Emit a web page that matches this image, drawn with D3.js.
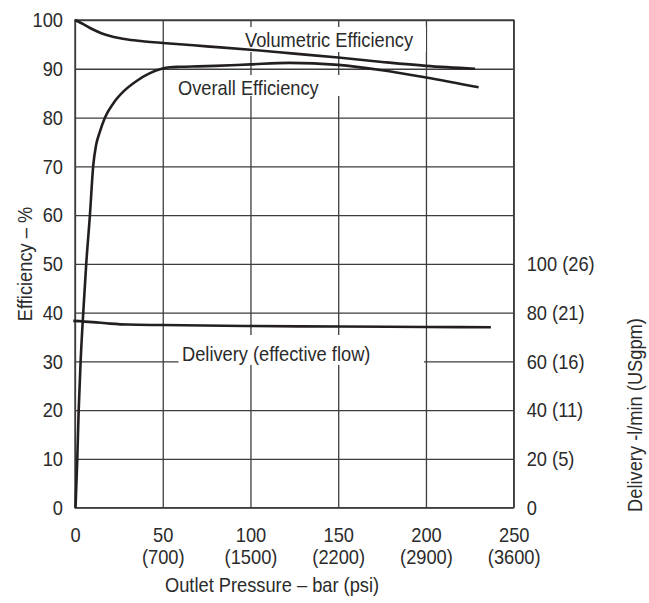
<!DOCTYPE html>
<html>
<head>
<meta charset="utf-8">
<script src="https://cdn.jsdelivr.net/npm/d3@7"></script>
<style>
  html, body { margin: 0; padding: 0; background: #fff; }
  svg { display: block; }
  text { font-family: "Liberation Sans", Arial, sans-serif; fill: #2b2b2b; transform-box: fill-box; }
  text.sq-start { transform-origin: left center; transform: scaleX(0.87); }
  text.sq-mid { transform-origin: center center; transform: scaleX(0.87); }
  text.sq-end { transform-origin: right center; transform: scaleX(0.87); }
</style>
</head>
<body>
<script>
// ---- data ----
const pressureTicks = [0, 50, 100, 150, 200, 250];
const psiLabels = ["", "(700)", "(1500)", "(2200)", "(2900)", "(3600)"];
const effTicks = [0, 10, 20, 30, 40, 50, 60, 70, 80, 90, 100];
const deliveryTicks = [0, 20, 40, 60, 80, 100];
const deliveryTickLabels = ["0", "20 (5)", "40 (11)", "60 (16)", "80 (21)", "100 (26)"];

const volPressure = [0, 5, 10, 15, 20, 25, 30, 40, 50, 75, 100, 125, 150, 175, 200, 228];
const volEff      = [100, 99.1, 98.1, 97.3, 96.7, 96.3, 96.0, 95.6, 95.3, 94.6, 93.9, 93.1, 92.3, 91.4, 90.6, 90.0];

const overallPressure = [0.3, 1.3, 2.1, 3.2, 4.7, 6.4, 8.5, 10.4, 12.0, 14.2, 17.1, 21.8, 27.5, 35.1, 42.7, 49.4, 54.1, 60, 70, 80, 100, 122, 150, 175, 200, 230];
const overallEff      = [0, 10, 20, 30, 40, 50, 60, 70.2, 74.3, 77.1, 80.0, 82.9, 85.3, 87.5, 89.1, 90.0, 90.3, 90.4, 90.5, 90.6, 90.9, 91.2, 90.8, 89.7, 88.2, 86.2];

const delivPressure = [-1, 10, 20, 30, 50, 100, 150, 200, 237];
const delivFlow     = [76.6, 76.1, 75.5, 75.1, 74.9, 74.5, 74.3, 74.1, 74.0];

// ---- layout ----
const W = 649, H = 603;
const X0 = 75, X1 = 513.7, Y0 = 507.7, Y1 = 20;
const x = d3.scaleLinear().domain([0, 250]).range([X0, X1]);
const yL = d3.scaleLinear().domain([0, 100]).range([Y0, Y1]);
const yR = d3.scaleLinear().domain([0, 100]).range([Y0, yL(50)]);

const svg = d3.select("body").append("svg").attr("width", W).attr("height", H);

const gridColor = "#3d3d3d";
// gridlines via axes
const gx = svg.append("g").attr("transform", `translate(0,${Y0})`)
  .call(d3.axisBottom(x).tickValues(pressureTicks).tickSize(-(Y0 - Y1)).tickFormat(""));
const gy = svg.append("g").attr("transform", `translate(${X0},0)`)
  .call(d3.axisLeft(yL).tickValues(effTicks).tickSize(-(X1 - X0)).tickFormat(""));
[gx, gy].forEach(g => {
  g.select(".domain").remove();
  g.selectAll(".tick line").attr("stroke", gridColor).attr("stroke-width", 1.3);
});

// label background boxes (cover gridlines)
const boxes = [
  {x0: 240, x1: 426, y0: 27, y1: 52},
  {x0: 172, x1: 346, y0: 75, y1: 96},
  {x0: 178.5, x1: 424, y0: 335, y1: 365}
];
svg.selectAll("rect.lbl").data(boxes).join("rect")
  .attr("x", d => d.x0).attr("y", d => d.y0)
  .attr("width", d => d.x1 - d.x0).attr("height", d => d.y1 - d.y0)
  .attr("fill", "#fff");

// frame
svg.append("rect").attr("x", X0).attr("y", Y1).attr("width", X1 - X0).attr("height", Y0 - Y1)
  .attr("fill", "none").attr("stroke", gridColor).attr("stroke-width", 1.4);

const fs = 21;
// left axis labels
const aL = svg.append("g").attr("transform", `translate(${X0},0)`)
  .call(d3.axisLeft(yL).tickValues(effTicks).tickSize(0).tickPadding(12));
aL.select(".domain").remove();
aL.selectAll("text").attr("font-size", fs).attr("fill", "#2b2b2b").attr("font-family", null).attr("class", "sq-end");

// right axis labels
const aR = svg.append("g").attr("transform", `translate(${X1},0)`)
  .call(d3.axisRight(yR).tickValues(deliveryTicks).tickSize(0).tickPadding(13)
    .tickFormat((d, i) => deliveryTickLabels[i]));
aR.select(".domain").remove();
aR.selectAll("text").attr("font-size", fs).attr("fill", "#2b2b2b").attr("font-family", null).attr("class", "sq-start");

// bottom axis labels (two rows)
const aB = svg.append("g").attr("transform", `translate(0,${Y0})`)
  .call(d3.axisBottom(x).tickValues(pressureTicks).tickSize(0).tickPadding(19));
aB.select(".domain").remove();
aB.selectAll("text").attr("font-size", fs).attr("fill", "#2b2b2b").attr("font-family", null).attr("class", "sq-mid");
aB.selectAll(".tick").append("text")
  .attr("y", 41).attr("dy", "0.71em").attr("text-anchor", "middle")
  .attr("font-size", fs).attr("fill", "#2b2b2b").attr("class", "sq-mid")
  .text((d, i) => psiLabels[i]);

// axis titles
svg.append("text").attr("x", 165).attr("y", 592).attr("font-size", fs).attr("class", "sq-start")
  .text("Outlet Pressure – bar (psi)");
svg.append("g").attr("transform", `translate(32,264) rotate(-90)`).append("text")
  .attr("text-anchor", "middle").attr("class", "sq-mid")
  .attr("font-size", fs).text("Efficiency – %");
svg.append("g").attr("transform", `translate(642,415) rotate(-90)`).append("text")
  .attr("text-anchor", "middle").attr("class", "sq-mid")
  .attr("font-size", fs).text("Delivery -l/min (USgpm)");

// curve labels
svg.append("text").attr("x", 245).attr("y", 47).attr("font-size", fs).attr("class", "sq-start").text("Volumetric Efficiency");
svg.append("text").attr("x", 178).attr("y", 95).attr("font-size", fs).attr("class", "sq-start").text("Overall Efficiency");
svg.append("text").attr("x", 182).attr("y", 361.5).attr("font-size", fs).attr("class", "sq-start").text("Delivery (effective flow)");

// curves
const curveColor = "#231f20";
const lineL = d3.line().x(d => x(d[0])).y(d => yL(d[1])).curve(d3.curveMonotoneX);
const lineR = d3.line().x(d => x(d[0])).y(d => yR(d[1])).curve(d3.curveMonotoneX);

svg.append("path").attr("d", lineL(d3.zip(volPressure, volEff)))
  .attr("fill", "none").attr("stroke", curveColor).attr("stroke-width", 2.6);
svg.append("path").attr("d", lineL(d3.zip(overallPressure, overallEff)))
  .attr("fill", "none").attr("stroke", curveColor).attr("stroke-width", 2.6);
svg.append("path").attr("d", lineR(d3.zip(delivPressure, delivFlow)))
  .attr("fill", "none").attr("stroke", curveColor).attr("stroke-width", 2.6);
</script>
</body>
</html>
